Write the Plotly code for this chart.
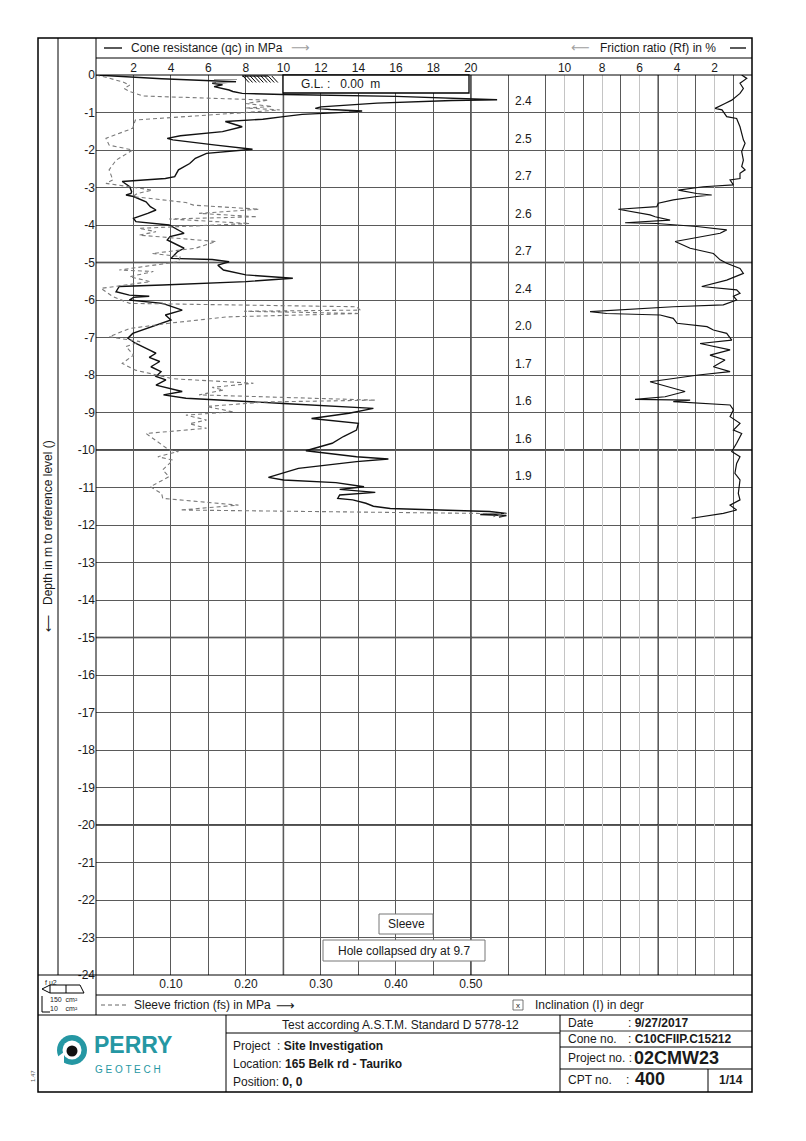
import plotly.graph_objects as go

# ---------------- data ----------------
qc_depth = [0.0, 0.1, 0.18, 0.22, 0.26, 0.31, 0.4, 0.44, 0.49, 0.52, 0.57, 0.62, 0.66, 0.68, 0.75, 0.85, 0.89,
            0.92, 0.96, 0.99, 1.05, 1.11, 1.18, 1.24, 1.38, 1.51, 1.62, 1.69, 1.73, 1.87, 1.98, 2.09,
            2.22, 2.36, 2.53, 2.71, 2.76, 2.84, 2.98, 3.11, 3.16, 3.2, 3.24, 3.38, 3.51, 3.6, 3.69, 3.82, 3.91,
            4.0, 4.13, 4.22, 4.31, 4.4, 4.62, 4.71, 4.89, 4.92, 4.98, 5.07, 5.2, 5.33, 5.42, 5.51,
            5.6, 5.64, 5.78, 5.87, 5.9, 5.93, 6.0, 6.09, 6.27, 6.4, 6.53, 6.71, 6.89, 7.02, 7.16, 7.33,
            7.42, 7.53, 7.64, 7.78, 7.91, 8.04, 8.13, 8.27, 8.44, 8.53, 8.62, 8.76, 8.89, 9.02,
            9.16, 9.29, 9.47, 9.64, 9.82, 10.02, 10.18, 10.24, 10.31, 10.49, 10.73, 10.8, 10.87,
            10.98, 11.05, 11.13, 11.2, 11.29, 11.33, 11.42, 11.5, 11.56, 11.6, 11.64, 11.69, 11.72, 11.75, 11.79]
qc_values = [0.0, 3.5, 7.47, 6.2, 6.75, 6.3, 7.1, 7.3, 7.8, 10.0, 16.0, 19.5, 21.4, 19.0, 15.0, 12.0, 11.7,
             12.5, 14.2, 13.5, 11.0, 10.0, 8.9, 6.9, 7.8, 6.75, 4.5, 3.8, 4.1, 6.4, 8.35, 5.9,
             5.3, 5.0, 4.4, 4.2, 3.7, 1.4, 1.8, 1.9, 1.87, 1.6, 2.0, 2.67, 2.9, 3.2, 2.76, 2.0, 2.13,
             3.9, 4.4, 4.7, 3.95, 3.8, 4.7, 4.36, 4.0, 6.2, 7.1, 6.5, 6.8, 8.0, 10.5, 8.0,
             3.55, 1.24, 1.07, 1.78, 2.84, 2.0, 1.78, 3.55, 4.6, 3.7, 4.0, 3.0, 1.96, 1.7, 2.13, 2.84,
             3.2, 2.84, 3.4, 2.93, 3.47, 3.2, 3.73, 3.2, 4.6, 3.6, 4.8, 10.0, 14.8, 13.5,
             11.5, 14.0, 13.9, 13.2, 12.6, 11.2, 13.9, 15.6, 13.9, 10.8, 9.2, 10.0, 12.8,
             14.3, 13.0, 14.9, 13.0, 12.9, 13.7, 14.4, 14.8, 15.7, 18.3, 21.0, 21.9, 20.5, 21.9, 21.5]

fs_depth = [0.0, 0.04, 0.18, 0.27, 0.36, 0.44, 0.56, 0.67, 0.76, 0.84, 0.88, 0.93, 1.0, 1.2, 1.42, 1.69,
            1.87, 2.0, 2.27, 2.53, 2.8, 2.89, 2.98, 3.07, 3.16, 3.24, 3.4, 3.47, 3.58, 3.69, 3.78, 3.84,
            3.96, 4.09, 4.18, 4.27, 4.44, 4.62, 4.76, 4.84, 4.98, 5.2, 5.24, 5.38, 5.51, 5.69, 5.91, 6.09, 6.18,
            6.27, 6.3, 6.36, 6.45, 6.62, 6.76, 6.98, 7.11, 7.24, 7.47, 7.69, 7.87, 8.1, 8.22, 8.33, 8.4,
            8.53, 8.67, 8.72, 8.84, 8.98, 9.07, 9.2, 9.3, 9.42, 9.56, 10.0, 10.04, 10.18, 10.27, 10.53, 10.71,
            10.98, 11.16, 11.29, 11.47, 11.6, 11.7, 11.78]
fs_values = [0.0, 0.009, 0.035, 0.045, 0.0375, 0.045, 0.0625, 0.23, 0.2, 0.235, 0.2, 0.245, 0.2, 0.0525,
             0.049, 0.0133, 0.0175, 0.049, 0.0268, 0.0175, 0.0225, 0.0133, 0.045, 0.075, 0.055, 0.049, 0.12,
             0.13, 0.2175, 0.1375, 0.215, 0.0975, 0.205, 0.0575, 0.08, 0.0575, 0.16, 0.1325, 0.075, 0.1125,
             0.11, 0.031, 0.0765, 0.045, 0.0725, 0.0068, 0.0225, 0.045, 0.3475, 0.3525, 0.1975, 0.3525,
             0.175, 0.0975, 0.045, 0.0175, 0.0588, 0.04, 0.05, 0.035, 0.0525, 0.1025, 0.21, 0.155, 0.17,
             0.1375, 0.3725, 0.225, 0.1475, 0.1825, 0.12, 0.1475, 0.125, 0.1475, 0.0668, 0.0975, 0.11, 0.0825,
             0.1025, 0.089, 0.0975, 0.0725, 0.0875, 0.089, 0.19, 0.1125, 0.5475, 0.53]

rf_depth = [0.0, 0.09, 0.22, 0.36, 0.49, 0.67, 0.76, 0.89, 0.93, 1.11, 1.16, 1.38, 1.73, 1.82, 2.04, 2.27, 2.44,
            2.53, 2.62, 2.76, 2.8, 2.93, 2.98, 3.07, 3.16, 3.2, 3.24, 3.33, 3.42, 3.51, 3.58, 3.73, 3.78, 3.87,
            3.94, 3.96, 4.04, 4.13, 4.22, 4.44, 4.62, 4.76, 4.93, 5.02, 5.16, 5.29, 5.47, 5.64, 5.73, 5.82, 5.9,
            6.0, 6.13, 6.18, 6.31, 6.36, 6.4, 6.49, 6.62, 6.71, 6.8, 6.89, 7.07, 7.16, 7.33, 7.47, 7.6, 7.78,
            7.91, 8.0, 8.18, 8.31, 8.44, 8.58, 8.65, 8.67, 8.71, 8.8, 8.93, 9.11, 9.29, 9.47, 9.56, 9.82, 10.04,
            10.18, 10.36, 10.62, 10.8, 11.16, 11.33, 11.47, 11.6, 11.69, 11.82]
rf_values = [0.55, 0.28, 0.64, 0.46, 0.64, 1.08, 1.44, 1.97, 1.6, 1.35, 0.82, 0.64, 0.46, 0.37, 0.55, 0.46, 0.55,
             0.37, 0.64, 0.64, 1.17, 0.99, 2.6, 3.93, 2.95, 2.15, 2.95, 4.2, 5.0, 5.08, 7.13, 5.44, 5.17, 4.37,
             6.77, 5.08, 2.95, 1.35, 1.7, 4.1, 3.3, 2.06, 1.7, 1.35, 0.64, 0.46, 1.35, 2.68, 0.82, 0.64, 0.99,
             0.82, 1.53, 4.2, 8.64, 7.75, 4.9, 4.2, 4.0, 2.4, 2.06, 1.35, 1.08, 2.77, 1.17, 2.24, 1.44, 2.06,
             1.17, 2.86, 5.44, 4.55, 3.57, 4.64, 6.24, 3.3, 4.2, 1.17, 0.99, 1.17, 0.64, 0.99, 0.55, 0.82, 1.08,
             0.64, 0.82, 0.91, 0.64, 0.73, 0.64, 1.17, 0.82, 1.53, 3.22]

rf_avg_depth = [0.7, 1.7, 2.7, 3.7, 4.7, 5.7, 6.7, 7.7, 8.7, 9.7, 10.7]
rf_avg_labels = ["2.4", "2.5", "2.7", "2.6", "2.7", "2.4", "2.0", "1.7", "1.6", "1.6", "1.9"]

qc_ticks = [2, 4, 6, 8, 10, 12, 14, 16, 18, 20]
rf_ticks = [10, 8, 6, 4, 2]
fs_ticks = [0.10, 0.20, 0.30, 0.40, 0.50]
depth_ticks = list(range(0, -25, -1))

# ---------------- layout geometry (page pixels) ----------------
OFF = 8                      # default body margin of the html page
W, H = 790, 1125             # figure size
L, R, T, B = 96, 752, 75, 975  # plot area in page pixels
FONT = "Liberation Sans, Arial, sans-serif"


def X(p):
    return (p - L) / (R - L)


def Y(p):
    return (B - p) / (B - T)


shapes = []
annots = []


def line(x0, y0, x1, y1, color="black", width=1, dash=None):
    d = dict(type="line", xref="paper", yref="paper", x0=X(x0), y0=Y(y0), x1=X(x1), y1=Y(y1),
             line=dict(color=color, width=width), layer="above")
    if dash:
        d["line"]["dash"] = dash
    shapes.append(d)


def rect(x0, y0, x1, y1, color="black", width=1, fill=None):
    shapes.append(dict(type="rect", xref="paper", yref="paper", x0=X(x0), y0=Y(y0), x1=X(x1), y1=Y(y1),
                       line=dict(color=color, width=width), fillcolor=fill or "rgba(0,0,0,0)", layer="above"))


def circle(cx, cy, r, fill):
    shapes.append(dict(type="circle", xref="paper", yref="paper", x0=X(cx - r), x1=X(cx + r),
                       y0=Y(cy + r), y1=Y(cy - r), fillcolor=fill, line=dict(color=fill, width=0),
                       layer="above"))


def text(x, y, s, size=12, anchor="left", color="#1a1a1a", angle=0, family=FONT):
    annots.append(dict(x=X(x), y=Y(y), xref="paper", yref="paper", text=s, showarrow=False,
                       xanchor=anchor, yanchor="middle", textangle=angle,
                       font=dict(size=size, color=color, family=family)))


# ---------------- figure ----------------
fig = go.Figure()
fig.add_trace(go.Scatter(x=fs_values, y=[-d for d in fs_depth], xaxis="x2", yaxis="y", mode="lines",
                         line=dict(color="#7a7a7a", width=1.1, dash="4px,3px"), hoverinfo="skip"))
fig.add_trace(go.Scatter(x=qc_values, y=[-d for d in qc_depth], xaxis="x", yaxis="y", mode="lines",
                         line=dict(color="#111111", width=1.4), hoverinfo="skip"))
fig.add_trace(go.Scatter(x=rf_values, y=[-d for d in rf_depth], xaxis="x3", yaxis="y", mode="lines",
                         line=dict(color="#111111", width=1.2), hoverinfo="skip"))

# emphasised grid lines (every 10 MPa / every 5 m)
for v in [10, 20, 30]:
    shapes.append(dict(type="line", xref="x", yref="paper", x0=v, x1=v, y0=0, y1=1,
                       line=dict(color="#111", width=1.4), layer="between"))
for v in [-5, -10, -15, -20]:
    shapes.append(dict(type="line", xref="paper", yref="y", x0=0, x1=1, y0=v, y1=v,
                       line=dict(color="#111", width=1.4), layer="between"))

# frame and table lines
rect(38, 38, 752, 1092, width=1.5)
line(58, 38, 58, 975)
line(96, 38, 96, 1015)
line(96, 58, 752, 58)
line(96, 75, 752, 75)
line(38, 975, 752, 975)
line(96, 995, 752, 995)
line(38, 1015, 752, 1015)
line(226, 1015, 226, 1092)
line(226, 1033, 560, 1033)
line(560, 1015, 560, 1092)
line(560, 1031, 752, 1031, width=0.8)
line(560, 1047, 752, 1047)
line(560, 1069, 752, 1069)
line(708, 1069, 708, 1092)

# header
line(104, 48, 122, 48, width=1.3)
text(129, 48, "Cone resistance (qc) in MPa", 12)
text(289, 48, "⟶", 13, color="#a0a0a0", family="DejaVu Sans")
text(592, 48, "⟵", 13, color="#a0a0a0", anchor="right", family="DejaVu Sans")
text(598, 48, "Friction ratio (Rf) in %", 12)
line(730, 48, 746, 48, width=1.3)

# ground level marker and G.L. box
line(242, 76, 268, 76, width=1.2)
for k in range(9):
    line(243 + 3.6 * k, 76, 249 + 3.6 * k, 82.5, width=1)
line(214, 79.5, 237, 79.5, color="#9a9a9a", width=1)
line(216, 82.5, 236, 82.5, color="#9a9a9a", width=1)
rect(283, 75, 469, 93, width=1.3, fill="white")
text(299, 84, "G.L. :&nbsp;&nbsp; 0.00&nbsp; m", 12)

# Rf averages per metre
for d, s in zip(rf_avg_depth, rf_avg_labels):
    annots.append(dict(x=X(513), y=-d, xref="paper", yref="y", text=s, showarrow=False, xanchor="left",
                       yanchor="middle", font=dict(size=12, color="#1a1a1a", family=FONT)))

# remarks boxes
rect(379, 914, 433, 934, color="#777", width=1, fill="white")
text(406, 924, "Sleeve", 12, anchor="center")
rect(323, 940, 485, 961, color="#777", width=1, fill="white")
text(404, 950.5, "Hole collapsed dry at 9.7", 12, anchor="center")

# depth axis title
text(48, 536, "⟵&nbsp;&nbsp; Depth in m to reference level ()", 12, anchor="center", angle=-90)

# bottom legends
line(101, 1005, 127, 1005, color="#666", width=1, dash="4px,3px")
text(132, 1005, "Sleeve friction (fs) in MPa", 12)
text(274, 1005, "⟶", 13, family="DejaVu Sans")
rect(513, 1000, 523, 1010, color="#555", width=0.8)
text(518, 1005.5, "x", 8, anchor="center")
text(533, 1005, "Inclination (I) in degr", 12)

# cone sketch
text(43, 982, "f u2", 7)
line(42, 989, 50, 985)
line(42, 989, 50, 993)
line(50, 985, 80, 985)
line(50, 993, 84, 993)
line(80, 985, 84, 993)
line(50, 985, 50, 993)
line(66, 985, 66, 993)
line(42, 996, 42, 1012)
line(42, 1012, 50, 1012)
text(48, 1000, "150&nbsp; cm²", 7)
text(48, 1009, "10&nbsp;&nbsp;&nbsp; cm²", 7)

# logo
circle(72, 1050, 15, "#2597a3")
circle(72, 1050, 9.5, "white")
circle(72, 1051, 5.5, "#111")
shapes.append(dict(type="path", xref="paper", yref="paper",
                   path=f"M {X(56)},{Y(1058)} L {X(64)},{Y(1052)} L {X(64)},{Y(1066)} Z",
                   fillcolor="white", line=dict(width=0), layer="above"))
text(92, 1045, "<b>PERRY</b>", 23, color="#2597a3")
text(93, 1069, "G E O T E C H", 10, color="#2597a3")
text(33, 1076, "1.47", 6, anchor="center", angle=-90, color="#555")

# title block texts
text(400, 1025, "Test according A.S.T.M. Standard D 5778-12", 12, anchor="center")
text(231, 1046, "Project&nbsp; : <b>Site Investigation</b>", 12)
text(231, 1064, "Location: <b>165 Belk rd - Tauriko</b>", 12)
text(231, 1082, "Position: <b>0, 0</b>", 12)
text(566, 1023, "Date", 12)
text(626, 1023, ": <b>9/27/2017</b>", 12)
text(566, 1039, "Cone no.", 12)
text(626, 1039, ": <b>C10CFIIP.C15212</b>", 12)
text(566, 1058, "Project no. :", 12)
text(632, 1058, "<b>02CMW23</b>", 18)
text(566, 1080, "CPT no.", 12)
text(624, 1080, ":", 12)
text(633, 1079, "<b>400</b>", 18)
text(731, 1080, "<b>1/14</b>", 12, anchor="center")

axis_common = dict(zeroline=False, showline=False, ticks="", fixedrange=True,
                   tickfont=dict(size=12, color="#1a1a1a", family=FONT))

fig.update_layout(
    width=W, height=H,
    margin=dict(l=L - OFF, r=W - (R - OFF), t=T - OFF, b=H - (B - OFF), autoexpand=False),
    paper_bgcolor="white", plot_bgcolor="white", showlegend=False,
    font=dict(family=FONT, size=12, color="#1a1a1a"),
    xaxis=dict(domain=[0, 1], range=[0, 35], side="top", tickmode="array", tickvals=qc_ticks,
               ticktext=[str(v) for v in qc_ticks], showgrid=True, gridcolor="#5a5a5a", gridwidth=1,
               minor=dict(tickmode="array", tickvals=[22, 24, 26, 28, 30, 32, 34], showgrid=True,
                          gridcolor="#5a5a5a", gridwidth=1, ticks=""),
               **axis_common),
    xaxis2=dict(overlaying="x", range=[0, 0.875], side="bottom", tickmode="array", tickvals=fs_ticks,
                ticktext=[f"{v:.2f}" for v in fs_ticks], showgrid=False, **axis_common),
    xaxis3=dict(overlaying="x", range=[35, 0], side="top", tickmode="array", tickvals=rf_ticks,
                ticktext=[str(v) for v in rf_ticks], showgrid=True, gridcolor="#c4c4c4", gridwidth=1,
                **axis_common),
    yaxis=dict(domain=[0, 1], range=[-24, 0], tickmode="array", tickvals=depth_ticks,
               ticktext=[str(v) for v in depth_ticks], showgrid=True, gridcolor="#5a5a5a", gridwidth=1,
               **axis_common),
    shapes=shapes,
    annotations=annots,
)

fig.write_html("out.html")
